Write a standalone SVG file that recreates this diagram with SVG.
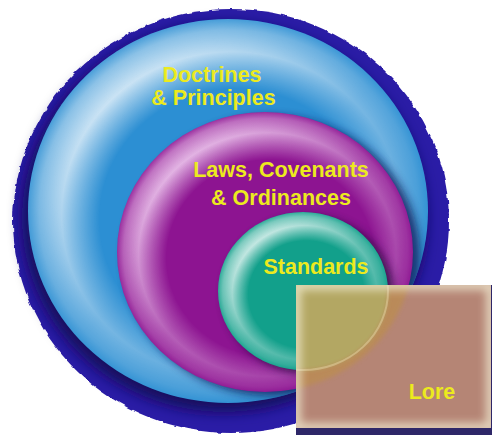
<svg xmlns="http://www.w3.org/2000/svg" width="492" height="437" viewBox="0 0 492 437">
<defs>
<style>
.lbl{font-family:"Liberation Sans",Arial,sans-serif;font-weight:bold;font-size:21.5px;fill:#ecea1e;text-anchor:middle;}
</style>
<filter id="rough" x="-5%" y="-5%" width="110%" height="110%">
<feTurbulence type="fractalNoise" baseFrequency="0.12" numOctaves="2" seed="3" result="n"/>
<feDisplacementMap in="SourceGraphic" in2="n" scale="4" xChannelSelector="R" yChannelSelector="G"/>
</filter>
<filter id="b2" x="-10%" y="-10%" width="120%" height="120%"><feGaussianBlur stdDeviation="2"/></filter>
<filter id="b4" x="-20%" y="-20%" width="140%" height="140%"><feGaussianBlur stdDeviation="4"/></filter>
<filter id="b7" x="-20%" y="-20%" width="140%" height="140%"><feGaussianBlur stdDeviation="7"/></filter>
<radialGradient id="ring" cx=".5" cy=".5" r=".5" fx=".56" fy=".57">
<stop offset="0" stop-color="#fff" stop-opacity="0"/>
<stop offset=".68" stop-color="#fff" stop-opacity="0"/>
<stop offset=".85" stop-color="#fff" stop-opacity=".88"/>
<stop offset=".95" stop-color="#fff" stop-opacity=".5"/>
<stop offset="1" stop-color="#fff" stop-opacity=".15"/>
</radialGradient>
<radialGradient id="ringP" cx=".5" cy=".5" r=".5" fx=".56" fy=".57">
<stop offset="0" stop-color="#fde6fd" stop-opacity="0"/>
<stop offset=".7" stop-color="#fde6fd" stop-opacity="0"/>
<stop offset=".87" stop-color="#fde6fd" stop-opacity=".88"/>
<stop offset=".96" stop-color="#fde6fd" stop-opacity=".5"/>
<stop offset="1" stop-color="#fde6fd" stop-opacity=".15"/>
</radialGradient>
<linearGradient id="mg" x1="0.12" y1="0.1" x2="0.85" y2="0.92">
<stop offset="0" stop-color="#fff"/>
<stop offset=".5" stop-color="#6a6a6a"/>
<stop offset="1" stop-color="#2a2a2a"/>
</linearGradient>
<mask id="mk" maskContentUnits="objectBoundingBox">
<rect width="1" height="1" fill="url(#mg)"/>
</mask>
<clipPath id="cBlue"><ellipse cx="228" cy="211" rx="200" ry="192"/></clipPath>
<clipPath id="cPurple"><ellipse cx="265" cy="252" rx="148" ry="140"/></clipPath>
<clipPath id="cLore"><rect x="296" y="285" width="195" height="143"/></clipPath>
</defs>

<g id="backdrop">
<ellipse cx="231" cy="221" rx="218" ry="212" fill="#2b1ca6" filter="url(#rough)"/>
<ellipse cx="224" cy="218" rx="202" ry="194" fill="#130a5c" filter="url(#b7)"/>
</g>

<g id="node-doctrines">
<ellipse cx="228" cy="211" rx="200" ry="192" fill="#2c8fd3"/>
<ellipse cx="228" cy="211" rx="200" ry="192" fill="url(#ring)" mask="url(#mk)"/>
<g clip-path="url(#cBlue)">
<ellipse cx="272" cy="256" rx="148" ry="140" fill="#0d1e5a" opacity=".8" filter="url(#b4)"/>
</g>
<text class="lbl" x="212" y="82">Doctrines</text>
<text class="lbl" x="213.5" y="105">&amp; Principles</text>
</g>

<g id="node-laws">
<ellipse cx="265" cy="252" rx="148" ry="140" fill="#8d1491"/>
<ellipse cx="265" cy="252" rx="148" ry="140" fill="url(#ringP)" mask="url(#mk)"/>
<g clip-path="url(#cPurple)">
<ellipse cx="309" cy="295" rx="85" ry="79" fill="#2a0840" opacity=".8" filter="url(#b4)"/>
</g>
<text class="lbl" x="281" y="177">Laws, Covenants</text>
<text class="lbl" x="281" y="205">&amp; Ordinances</text>
</g>

<g id="node-standards">
<ellipse cx="303" cy="291" rx="85" ry="79" fill="#12a08b"/>
<ellipse cx="303" cy="291" rx="85" ry="79" fill="url(#ring)" mask="url(#mk)"/>
<text class="lbl" x="316" y="274">Standards</text>
</g>

<g id="node-lore">
<rect x="296" y="285" width="196" height="150" fill="#2e2768"/>
<g clip-path="url(#cLore)">
<rect x="296" y="285" width="195" height="143" fill="#b58575"/>
<ellipse cx="265" cy="252" rx="148" ry="140" fill="#bb8c55" opacity=".85" filter="url(#b2)"/>
<ellipse cx="303" cy="291" rx="85" ry="79" fill="#b3a763" filter="url(#b2)"/>
<ellipse cx="303" cy="291" rx="85" ry="79" fill="none" stroke="#ecdcae" stroke-width="2" opacity=".45"/>
<rect x="296" y="285" width="195" height="143" fill="none" stroke="#f2eed4" stroke-width="10" opacity=".75" filter="url(#b4)"/>
</g>
<text class="lbl" x="432" y="399">Lore</text>
</g>

<g id="connectors"/>
</svg>
